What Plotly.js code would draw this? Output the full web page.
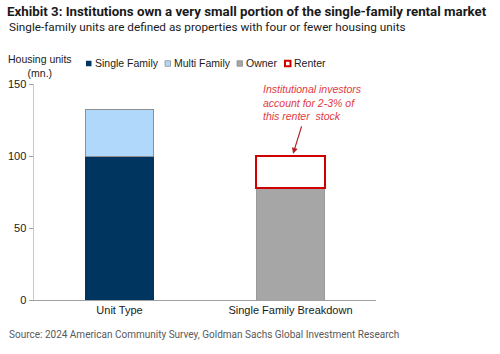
<!DOCTYPE html>
<html>
<head>
<meta charset="utf-8">
<script src="https://cdn.plot.ly/plotly-3.0.1.min.js"></script>
<style>html,body{margin:0;padding:0;background:#fff;}#chart{width:500px;height:354px;}</style>
</head>
<body>
<div id="chart"></div>
<script>
// ---- data ----
const categories = ['Unit Type', 'Single Family Breakdown'];
const singleFamily = [100, null];
const multiFamily = [32, null];
const owner = [null, 78];
const renter = [null, 22];
const yTicks = [0, 50, 100, 150];
const seriesNames = ['Single Family', 'Multi Family', 'Owner', 'Renter'];

// ---- layout helpers (pixel -> paper) ----
const L = 34, R = 124, T = 84, B = 54, W = 500, H = 354;
const pw = W - L - R, ph = H - T - B;
const px = v => (v - L) / pw;
const py = v => (H - B - v) / ph;

const AR = 'Liberation Sans';
const TXT = '#1a1a1a';

const traces = [
  {type:'bar', name:seriesNames[0], x:categories, y:singleFamily,
   marker:{color:'#003560', line:{color:'#003560', width:0}}},
  {type:'bar', name:seriesNames[1], x:categories, y:multiFamily,
   marker:{color:'#afd8fb', line:{color:'#8f8f8f', width:1}}},
  {type:'bar', name:seriesNames[2], x:categories, y:owner,
   marker:{color:'#a6a6a6', line:{color:'#9a9a9a', width:1}}},
  {type:'bar', name:seriesNames[3], x:categories, y:renter,
   marker:{color:'#ffffff', line:{color:'#d00000', width:2}}}
];

// manual legend
const legColors = [
  {fill:'#003560', line:'#003560', lw:0},
  {fill:'#afd8fb', line:'#8f8f8f', lw:0.8},
  {fill:'#a6a6a6', line:'#8f8f8f', lw:0.8},
  {fill:'#ffffff', line:'#d00000', lw:2}
];
const legX = [86, 165, 237, 285];
const legY = 63.5;
const shapes = [];
const annotations = [];
seriesNames.forEach((n, i) => {
  shapes.push({type:'rect', xref:'paper', yref:'paper',
    x0:px(legX[i]), x1:px(legX[i] + 5.5), y0:py(legY + 2.75), y1:py(legY - 2.75),
    fillcolor:legColors[i].fill, line:{color:legColors[i].line, width:legColors[i].lw}});
  annotations.push({xref:'paper', yref:'paper', x:px(legX[i] + 6.5), y:py(legY),
    xanchor:'left', yanchor:'middle', showarrow:false, text:n,
    font:{family:AR, size:10.5, color:TXT}});
});

// y-axis title
annotations.push({xref:'paper', yref:'paper', x:px(40), y:py(66), xanchor:'center', yanchor:'middle',
  showarrow:false, align:'center', text:'Housing units<br>(mn.)',
  font:{family:AR, size:10.5, color:TXT}});

// subtitle
annotations.push({xref:'paper', yref:'paper', x:px(7), y:py(27), xanchor:'left', yanchor:'middle',
  showarrow:false, text:'Single-family units are defined as properties with four or fewer housing units',
  font:{family:'Roboto', size:11.75, color:'#1a1a1a'}});

// source
annotations.push({xref:'paper', yref:'paper', x:px(7), y:py(334), xanchor:'left', yanchor:'middle',
  showarrow:false, text:'Source: 2024 American Community Survey, Goldman Sachs Global Investment Research',
  font:{family:'Roboto', size:10, color:'#595959'}});

// callout text
annotations.push({xref:'paper', yref:'paper', x:px(261), y:py(102), xanchor:'left', yanchor:'middle',
  showarrow:false, align:'left',
  text:'<i>Institutional investors</i><br><i>account for 2-3% of</i><br><i>this renter  stock</i>',
  font:{family:AR, size:10.5, color:'#e23a3f'}});

// callout arrow
annotations.push({xref:'x', yref:'y', x:1.015, y:101.5, text:'', showarrow:true,
  ax:9, ay:-29, arrowhead:2, arrowsize:1, arrowwidth:1.2, arrowcolor:'#b42025'});

const layout = {
  width:W, height:H,
  margin:{l:L, r:R, t:T, b:B, pad:0},
  paper_bgcolor:'#ffffff', plot_bgcolor:'#ffffff',
  barmode:'stack', bargap:0.6,
  showlegend:false,
  font:{family:AR},
  title:{text:'<b>Exhibit 3: Institutions own a very small portion of the single-family rental market</b>',
    xref:'container', yref:'container', x:7/W, xanchor:'left', y:1 - 11/H, yanchor:'middle',
    font:{family:'Roboto', size:13.3, color:'#1a1a1a'}},
  xaxis:{type:'category', showline:true, linecolor:'#a0a0a0', linewidth:1.2,
    ticks:'', showgrid:false, zeroline:false,
    tickfont:{family:AR, size:11, color:TXT}},
  yaxis:{range:[0,150], tickvals:yTicks, ticktext:yTicks.map(String),
    showline:true, linecolor:'#c8c8c8', linewidth:1.5,
    ticks:'outside', ticklen:4, tickcolor:'#a0a0a0', tickwidth:1,
    showgrid:false, zeroline:false,
    tickfont:{family:AR, size:11, color:TXT}},
  shapes:shapes, annotations:annotations
};

Plotly.newPlot('chart', traces, layout, {displayModeBar:false, staticPlot:true});
</script>
</body>
</html>
